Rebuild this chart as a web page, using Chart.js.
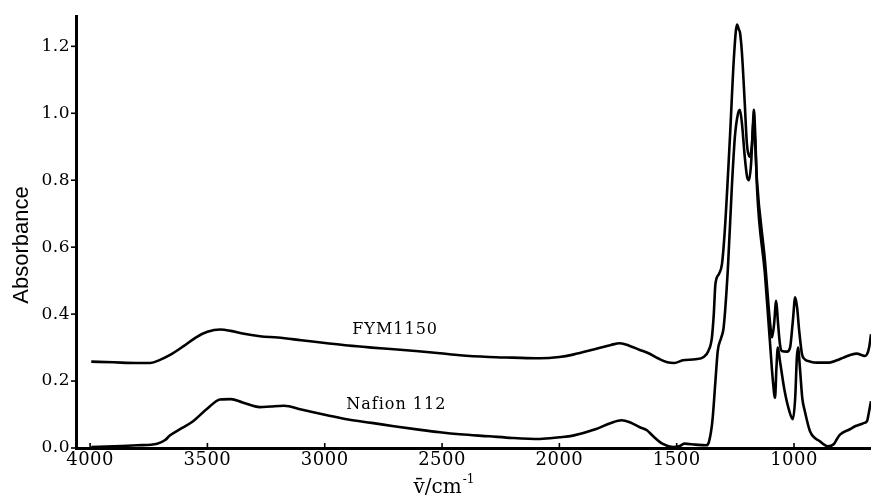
<!DOCTYPE html>
<html>
<head>
<meta charset="utf-8">
<script src="https://cdn.jsdelivr.net/npm/chart.js@4.4.0/dist/chart.umd.min.js"></script>
<style>
  html, body { margin: 0; padding: 0; background: #fff; }
  #wrap { width: 871px; height: 498px; }
</style>
</head>
<body>
<div id="wrap"><canvas id="irChart"></canvas></div>
<script>
// FYM1150 spectrum (wavenumber in cm-1, absorbance)
const fymWavenumber = [3995, 3900, 3800, 3744, 3700, 3659, 3600, 3550, 3500, 3446, 3400, 3350, 3276, 3200, 3100,
    2990, 2900, 2800, 2705, 2600, 2509, 2424, 2300, 2200, 2083, 2000, 1942, 1850, 1780, 1742, 1700, 1657, 1620,
    1580, 1540, 1510, 1474, 1420, 1385, 1365, 1350, 1342, 1335, 1320, 1307, 1295, 1273, 1255, 1243, 1235, 1230,
    1222, 1210, 1201, 1190, 1180, 1172, 1165, 1158, 1124, 1103, 1094, 1085, 1076, 1069, 1060, 1052, 1030, 1017,
    1005, 995, 987, 978, 966, 954, 930, 902, 850, 817, 790, 760, 732, 710, 698, 689, 680, 672];
const fymAbsorbance = [0.258, 0.256, 0.254, 0.254, 0.264, 0.278, 0.305, 0.330, 0.347, 0.354, 0.350, 0.342, 0.334, 0.330, 0.322,
    0.313, 0.306, 0.300, 0.295, 0.289, 0.283, 0.277, 0.272, 0.270, 0.268, 0.272, 0.279, 0.295, 0.308, 0.313, 0.305, 0.293, 0.283,
    0.268, 0.256, 0.254, 0.262, 0.265, 0.272, 0.29, 0.33, 0.40, 0.49, 0.52, 0.55, 0.65, 0.93, 1.18, 1.265, 1.25, 1.24,
    1.18, 1.03, 0.91, 0.87, 0.90, 0.98, 0.90, 0.80, 0.56, 0.38, 0.33, 0.37, 0.44, 0.38, 0.31, 0.29, 0.288, 0.30,
    0.38, 0.45, 0.42, 0.35, 0.28, 0.265, 0.258, 0.255, 0.255, 0.262, 0.270, 0.278, 0.282, 0.277, 0.275, 0.280, 0.300, 0.340];

// Nafion 112 spectrum
const nafionWavenumber = [3995, 3900, 3800, 3714, 3680, 3659, 3620, 3561, 3500, 3446, 3400, 3350, 3276, 3230, 3173,
    3100, 2990, 2900, 2800, 2705, 2600, 2509, 2424, 2300, 2200, 2083, 2000, 1942, 1850, 1780, 1735, 1700, 1657,
    1627, 1600, 1559, 1516, 1490, 1467, 1420, 1374, 1362, 1348, 1335, 1325, 1310, 1300, 1282, 1265, 1252, 1240,
    1231, 1222, 1210, 1200, 1192, 1183, 1176, 1171, 1165, 1158, 1124, 1103, 1090, 1081, 1075, 1069, 1060, 1040,
    1020, 1005, 995, 988, 983, 975, 965, 954, 932, 890, 856, 830, 817, 804, 762, 740, 719, 700, 689, 680, 672];
const nafionAbsorbance = [0.003, 0.005, 0.008, 0.013, 0.024, 0.038, 0.055, 0.080, 0.118, 0.145, 0.146, 0.136, 0.122, 0.124, 0.126,
    0.115, 0.098, 0.085, 0.075, 0.065, 0.055, 0.047, 0.041, 0.035, 0.030, 0.027, 0.032, 0.037, 0.055, 0.075, 0.083, 0.077, 0.062,
    0.053, 0.035, 0.012, 0.003, 0.005, 0.013, 0.010, 0.008, 0.02, 0.08, 0.20, 0.29, 0.33, 0.36, 0.535, 0.78, 0.93, 0.995,
    1.01, 0.97, 0.87, 0.81, 0.80, 0.85, 0.95, 1.01, 0.93, 0.78, 0.52, 0.32, 0.20, 0.15, 0.24, 0.30, 0.26, 0.17,
    0.11, 0.086, 0.15, 0.27, 0.30, 0.24, 0.15, 0.11, 0.05, 0.02, 0.005, 0.012, 0.027, 0.040, 0.056, 0.065, 0.070, 0.075, 0.080, 0.110, 0.140];

const xTickValues = [4000, 3500, 3000, 2500, 2000, 1500, 1000];
const yTickValues = [0.0, 0.2, 0.4, 0.6, 0.8, 1.0, 1.2];

// curve labels placed in data coordinates
const curveLabels = [
    { text: 'FYM1150', x: 2700, y: 0.352 },
    { text: 'Nafion 112', x: 2695, y: 0.128 }
];

const toPoints = (xs, ys) => xs.map((v, i) => ({ x: v, y: ys[i] }));

// draws inward x ticks, outward y ticks, curve labels and axis titles
const annotate = {
    id: 'annotate',
    beforeDraw(chart) {
        chart.ctx.letterSpacing = '0.5px';
    },
    afterDraw(chart) {
        const { ctx, chartArea } = chart;
        const x = chart.scales.x, y = chart.scales.y;
        ctx.save();
        ctx.strokeStyle = '#000';
        ctx.lineWidth = 1.6;
        xTickValues.forEach(v => {
            const px = x.getPixelForValue(v);
            ctx.beginPath();
            ctx.moveTo(px, chartArea.bottom);
            ctx.lineTo(px, chartArea.bottom - 5);
            ctx.stroke();
        });
        yTickValues.forEach(v => {
            const py = y.getPixelForValue(v);
            ctx.beginPath();
            ctx.moveTo(chartArea.left, py);
            ctx.lineTo(chartArea.left - 5, py);
            ctx.stroke();
        });

        ctx.fillStyle = '#000';
        ctx.textAlign = 'center';
        ctx.textBaseline = 'middle';
        ctx.letterSpacing = '1px';
        ctx.font = '16px "DejaVu Serif"';
        curveLabels.forEach(l => {
            ctx.fillText(l.text, x.getPixelForValue(l.x), y.getPixelForValue(l.y));
        });

        // x axis title
        ctx.letterSpacing = '0px';
        ctx.font = '20px "DejaVu Serif"';
        ctx.textBaseline = 'alphabetic';
        ctx.textAlign = 'left';
        const main = 'v\u0304/cm';
        const w = ctx.measureText(main).width;
        const tx = x.getPixelForValue(2500) - (w + 9) / 2;
        ctx.fillText(main, tx, 493);
        ctx.font = '12px "DejaVu Serif"';
        ctx.fillText('-1', tx + w + 1, 483);

        // y axis title
        ctx.translate(22, 245);
        ctx.rotate(-Math.PI / 2);
        ctx.textAlign = 'center';
        ctx.textBaseline = 'middle';
        ctx.font = '22px "Liberation Sans"';
        ctx.fillText('Absorbance', 0, 0);
        ctx.restore();
    }
};

const lineStyle = {
    borderColor: '#000',
    borderWidth: 2.6,
    pointRadius: 0,
    fill: false,
    cubicInterpolationMode: 'monotone'
};

const ctxIr = document.getElementById('irChart').getContext('2d');
const irChart = new Chart(ctxIr, {
    type: 'line',
    data: {
        datasets: [
            { label: 'FYM1150', data: toPoints(fymWavenumber, fymAbsorbance), ...lineStyle },
            { label: 'Nafion 112', data: toPoints(nafionWavenumber, nafionAbsorbance), ...lineStyle }
        ]
    },
    options: {
        responsive: true,
        maintainAspectRatio: false,
        animation: false,
        layout: { padding: { top: 12, right: 0, bottom: 0, left: 0 } },
        scales: {
            x: {
                type: 'linear',
                reverse: true,
                min: 672,
                max: 4060,
                afterBuildTicks: s => { s.ticks = xTickValues.map(v => ({ value: v })); },
                afterFit: s => { s.height = 50; },
                grid: { display: false, drawTicks: false },
                border: { display: true, color: '#000', width: 3 },
                ticks: {
                    color: '#000',
                    padding: 2,
                    maxRotation: 0,
                    font: { family: 'DejaVu Serif', size: 18 },
                    callback: v => String(v)
                }
            },
            y: {
                min: 0,
                max: 1.29,
                afterBuildTicks: s => { s.ticks = yTickValues.map(v => ({ value: v })); },
                afterFit: s => { s.width = 76; },
                grid: { display: false, drawTicks: false },
                border: { display: true, color: '#000', width: 3 },
                ticks: {
                    color: '#000',
                    padding: 6,
                    font: { family: 'DejaVu Serif', size: 17 },
                    callback: v => v.toFixed(1)
                }
            }
        },
        plugins: {
            legend: { display: false },
            tooltip: { enabled: false }
        }
    },
    plugins: [annotate]
});
</script>
</body>
</html>
